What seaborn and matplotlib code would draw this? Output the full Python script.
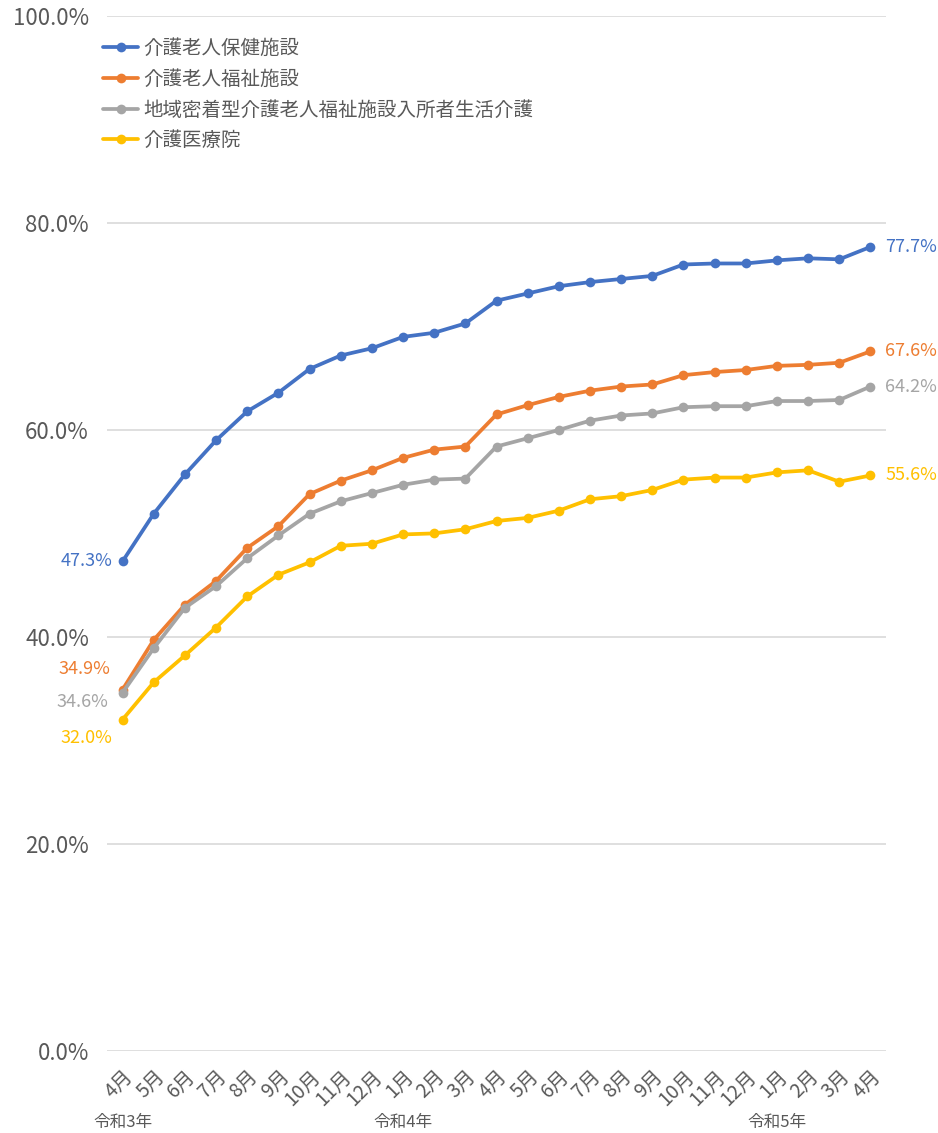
import matplotlib
matplotlib.use("Agg")
import matplotlib.pyplot as plt
import pandas as pd
import seaborn as sns
from matplotlib.lines import Line2D
from matplotlib.transforms import blended_transform_factory

# Month labels, 令和3年4月 → 令和5年4月
months = ["4月", "5月", "6月", "7月", "8月", "9月", "10月", "11月", "12月",
          "1月", "2月", "3月", "4月", "5月", "6月", "7月", "8月", "9月",
          "10月", "11月", "12月", "1月", "2月", "3月", "4月"]
year_labels = ["令和3年", "令和4年", "令和5年"]
year_positions = [0, 9, 21]

series_names = ["介護老人保健施設", "介護老人福祉施設",
                "地域密着型介護老人福祉施設入所者生活介護", "介護医療院"]

# Rates (%)
roken = [47.3, 51.9, 55.7, 59.0, 61.8, 63.6, 65.9, 67.2, 67.9, 69.0, 69.4, 70.3,
         72.5, 73.2, 73.9, 74.3, 74.6, 74.9, 76.0, 76.1, 76.1, 76.4, 76.6, 76.5, 77.7]
tokuyo = [34.9, 39.7, 43.1, 45.4, 48.6, 50.7, 53.8, 55.1, 56.1, 57.3, 58.1, 58.4,
          61.5, 62.4, 63.2, 63.8, 64.2, 64.4, 65.3, 65.6, 65.8, 66.2, 66.3, 66.5, 67.6]
chiiki = [34.6, 38.9, 42.8, 44.9, 47.6, 49.8, 51.9, 53.1, 53.9, 54.7, 55.2, 55.3,
          58.4, 59.2, 60.0, 60.9, 61.4, 61.6, 62.2, 62.3, 62.3, 62.8, 62.8, 62.9, 64.2]
iryoin = [32.0, 35.6, 38.2, 40.9, 43.9, 46.0, 47.2, 48.8, 49.0, 49.9, 50.0, 50.4,
          51.2, 51.5, 52.2, 53.3, 53.6, 54.2, 55.2, 55.4, 55.4, 55.9, 56.1, 55.0, 55.6]

colors = ["#4472C4", "#ED7D31", "#A5A5A5", "#FFC000"]
palette = dict(zip(series_names, colors))

rows = []
for name, vals in zip(series_names, [roken, tokuyo, chiiki, iryoin]):
    for i, v in enumerate(vals):
        rows.append({"idx": i, "rate": v, "series": name})
df = pd.DataFrame(rows)

sns.set_theme(style="white")
plt.rcParams["font.family"] = ["Noto Sans CJK JP", "DejaVu Sans"]
text_color = "#595959"

fig = plt.figure(figsize=(9.38, 11.33), dpi=100)
W, H = 938, 1133
ax = fig.add_axes([107 / W, 1 - 1050.5 / H, (886 - 107) / W, (1050.5 - 16.3) / H])

sns.lineplot(data=df, x="idx", y="rate", hue="series", hue_order=series_names,
             palette=palette, marker="o", markersize=7, markeredgewidth=0,
             linewidth=2.7, sort=False, legend=False, ax=ax)

ax.set_xlim(-0.5, len(months) - 0.5)
ax.set_ylim(0, 100)
ax.set_yticks(range(0, 101, 20))
ax.set_yticklabels([f"{v:.1f}%" for v in range(0, 101, 20)])
ax.set_xticks(range(len(months)))
ax.set_xticklabels(months, rotation=45, ha="right", rotation_mode="anchor")
ax.tick_params(axis="y", length=0, pad=13, labelsize=16, labelcolor=text_color)
ax.tick_params(axis="x", length=0, pad=11, labelsize=14, labelcolor=text_color)
ax.set_xlabel("")
ax.set_ylabel("")
ax.grid(axis="y", color="#D9D9D9", linewidth=1.2)
ax.grid(axis="x", visible=False)
for s in ax.spines.values():
    s.set_visible(False)

# Era-year labels under the month ticks
trans = blended_transform_factory(ax.transData, ax.transAxes)
for pos, lab in zip(year_positions, year_labels):
    ax.text(pos, -0.07, lab, transform=trans, ha="center", va="center",
            fontsize=12, color=text_color)

# First and last values
start_offsets = [(-10, 0), (-12, 21), (-14, -9), (-10, -18)]
for vals, col, off in zip([roken, tokuyo, chiiki, iryoin], colors, start_offsets):
    ax.annotate(f"{vals[0]:.1f}%", (0, vals[0]), xytext=off,
                textcoords="offset pixels", ha="right", va="center",
                fontsize=13, color=col)
    ax.annotate(f"{vals[-1]:.1f}%", (len(vals) - 1, vals[-1]), xytext=(15, 0),
                textcoords="offset pixels", ha="left", va="center",
                fontsize=13, color=col)

handles = [Line2D([0], [0], color=c, lw=2.7, marker="o", markersize=7,
                  markeredgewidth=0) for c in colors]
leg = ax.legend(handles, series_names, loc="upper left",
                bbox_to_anchor=(103 / W, 1 - 38 / H), bbox_transform=fig.transFigure,
                frameon=False, fontsize=14, handlelength=1.8, handletextpad=0.25,
                labelspacing=0.5, borderpad=0, borderaxespad=0)
for t in leg.get_texts():
    t.set_color(text_color)

fig.savefig("out.png", dpi=100)
